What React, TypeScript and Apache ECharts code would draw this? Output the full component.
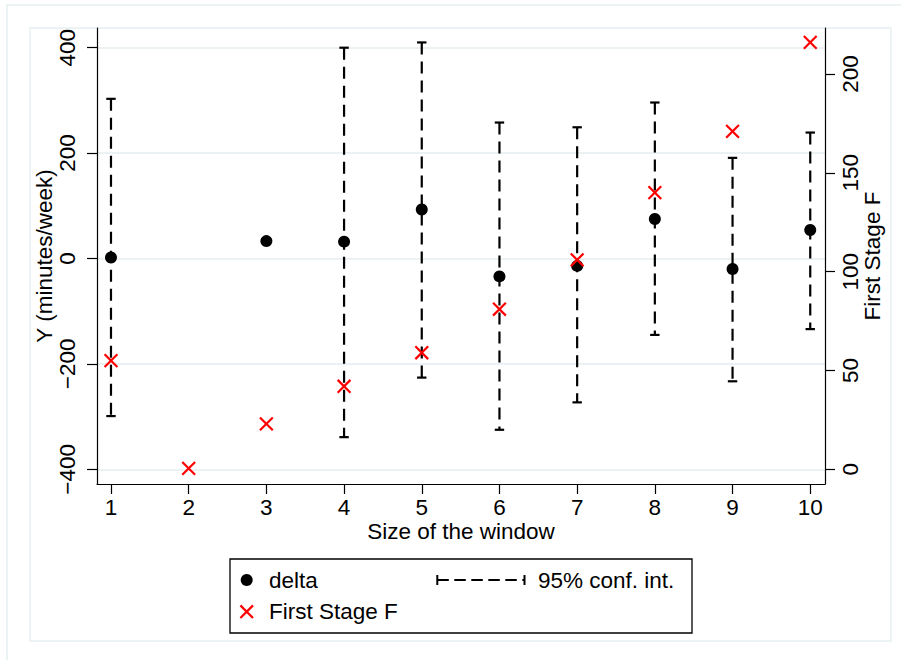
import React, { useEffect, useRef } from "react";
import * as echarts from "echarts";

// ---- data ----
const windowSizes = [1, 2, 3, 4, 5, 6, 7, 8, 9, 10];
const delta: (number | null)[] = [2, null, 33, 32, 93, -34, -14, 75, -20, 54];
const ciLow: (number | null)[] = [-299, null, null, -339, -226, -325, -273, -145, -233, -134];
const ciHigh: (number | null)[] = [303, null, null, 400, 410, 258, 249, 296, 191, 239];
const firstStageF = [55, 0.5, 23, 42, 59, 81, 106, 140, 171, 216];

const xTicks = [1, 2, 3, 4, 5, 6, 7, 8, 9, 10];
const yLeftTicks = [-400, -200, 0, 200, 400];
const yRightTicks = [0, 50, 100, 150, 200];

const FONT = "'Liberation Sans', Arial, Helvetica, sans-serif";
const FS = 22.5;
const GRID_COLOR = "#e6edf1";
const FRAME_COLOR = "#e6eff1";

const fmt = (v: number) => String(v).replace("-", "\u2212");

export default function App() {
  const ref = useRef<HTMLDivElement>(null);

  useEffect(() => {
    if (!ref.current) return;
    const chart = echarts.init(ref.current, undefined, { renderer: "svg" });

    const deltaData = windowSizes
      .map((x, i) => [x, delta[i]])
      .filter((d) => d[1] != null);
    const ciData = windowSizes
      .map((x, i) => [x, ciLow[i], ciHigh[i]])
      .filter((d) => d[1] != null && d[2] != null);
    const fData = windowSizes.map((x, i) => [x, firstStageF[i]]);

    const axisText = { color: "#000", fontFamily: FONT, fontSize: FS };

    const option: any = {
      animation: false,
      backgroundColor: "#fff",
      grid: { left: 97, right: 76, top: 28, bottom: 176, containLabel: false },
      xAxis: {
        type: "value",
        min: 0.82,
        max: 10.19,
        name: "Size of the window",
        nameLocation: "middle",
        nameGap: 36,
        nameMoveOverlap: false,
        nameTextStyle: axisText,
        axisLine: { show: true, onZero: false, lineStyle: { color: "#000", width: 1.2 } },
        axisTick: { show: true, length: 10, customValues: xTicks, lineStyle: { color: "#000", width: 1.2 } },
        axisLabel: { customValues: xTicks, margin: 12, ...axisText },
        splitLine: { show: false },
      },
      yAxis: [
        {
          type: "value",
          position: "left",
          min: -427.9,
          max: 437.4,
          name: "Y (minutes/week)",
          nameLocation: "middle",
          nameRotate: 90,
          nameGap: 41,
          nameMoveOverlap: false,
          nameTextStyle: axisText,
          axisLine: { show: true, onZero: false, lineStyle: { color: "#000", width: 1.2 } },
          axisTick: { show: true, length: 10, customValues: yLeftTicks, lineStyle: { color: "#000", width: 1.2 } },
          axisLabel: { customValues: yLeftTicks, rotate: 90, margin: 18, formatter: fmt, ...axisText },
          splitLine: { show: true, lineStyle: { color: GRID_COLOR, width: 1.5 } },
        },
        {
          type: "value",
          position: "right",
          min: -7.44,
          max: 223.3,
          name: "First Stage F",
          nameLocation: "middle",
          nameRotate: 90,
          nameGap: 36,
          nameMoveOverlap: false,
          nameTextStyle: axisText,
          axisLine: { show: true, onZero: false, lineStyle: { color: "#000", width: 1.2 } },
          axisTick: { show: true, length: 10, customValues: yRightTicks, lineStyle: { color: "#000", width: 1.2 } },
          axisLabel: { customValues: yRightTicks, rotate: 90, margin: 14, formatter: fmt, ...axisText },
          splitLine: { show: false },
        },
      ],
      series: [
        {
          name: "95% conf. int.",
          type: "custom",
          xAxisIndex: 0,
          yAxisIndex: 0,
          encode: { x: 0, y: [1, 2] },
          data: ciData,
          z: 2,
          renderItem: (params: any, api: any) => {
            const x = api.value(0);
            const lo = api.value(1);
            const hi = api.value(2);
            const pHi = api.coord([x, hi]);
            const pLo = api.coord([x, lo]);
            const c = 4.7;
            const st = { stroke: "#000", lineWidth: 2.2 };
            return {
              type: "group",
              children: [
                {
                  type: "line",
                  shape: { x1: pHi[0], y1: pHi[1], x2: pLo[0], y2: pLo[1] },
                  style: { ...st, lineDash: [12, 7] },
                },
                { type: "line", shape: { x1: pHi[0] - c, y1: pHi[1], x2: pHi[0] + c, y2: pHi[1] }, style: st },
                { type: "line", shape: { x1: pLo[0] - c, y1: pLo[1], x2: pLo[0] + c, y2: pLo[1] }, style: st },
              ],
            };
          },
        },
        {
          name: "delta",
          type: "scatter",
          xAxisIndex: 0,
          yAxisIndex: 0,
          symbol: "circle",
          symbolSize: 12,
          itemStyle: { color: "#000", opacity: 1 },
          data: deltaData,
          z: 3,
        },
        {
          name: "First Stage F",
          type: "custom",
          xAxisIndex: 0,
          yAxisIndex: 1,
          encode: { x: 0, y: 1 },
          data: fData,
          z: 4,
          renderItem: (params: any, api: any) => {
            const p = api.coord([api.value(0), api.value(1)]);
            const h = 6.4;
            const st = { stroke: "#ff0000", lineWidth: 2.2 };
            return {
              type: "group",
              children: [
                { type: "line", shape: { x1: p[0] - h, y1: p[1] - h, x2: p[0] + h, y2: p[1] + h }, style: st },
                { type: "line", shape: { x1: p[0] - h, y1: p[1] + h, x2: p[0] + h, y2: p[1] - h }, style: st },
              ],
            };
          },
        },
      ],
      graphic: [
        // outer and inner frames
        { type: "rect", z: -10, silent: true, shape: { x: 7, y: 5, width: 905, height: 700 }, style: { fill: "none", stroke: FRAME_COLOR, lineWidth: 1.5 } },
        { type: "rect", z: -10, silent: true, shape: { x: 30, y: 28, width: 861, height: 613 }, style: { fill: "none", stroke: FRAME_COLOR, lineWidth: 1.5 } },
        // legend box
        { type: "rect", z: 10, shape: { x: 230, y: 559, width: 462, height: 74 }, style: { fill: "#fff", stroke: "#000", lineWidth: 1.3 } },
        { type: "circle", z: 11, shape: { cx: 246.7, cy: 580, r: 6 }, style: { fill: "#000" } },
        { type: "text", z: 11, x: 269, y: 580, style: { text: "delta", fill: "#000", font: `${FS}px ${FONT}`, verticalAlign: "middle", align: "left" } },
        { type: "line", z: 11, shape: { x1: 240.4, y1: 605.4, x2: 253, y2: 618 }, style: { stroke: "#ff0000", lineWidth: 2.2 } },
        { type: "line", z: 11, shape: { x1: 240.4, y1: 618, x2: 253, y2: 605.4 }, style: { stroke: "#ff0000", lineWidth: 2.2 } },
        { type: "text", z: 11, x: 269, y: 611.5, style: { text: "First Stage F", fill: "#000", font: `${FS}px ${FONT}`, verticalAlign: "middle", align: "left" } },
        { type: "line", z: 11, shape: { x1: 437.3, y1: 580, x2: 524.5, y2: 580 }, style: { stroke: "#000", lineWidth: 2, lineDash: [11.5, 5.5] } },
        { type: "line", z: 11, shape: { x1: 437.3, y1: 575, x2: 437.3, y2: 585 }, style: { stroke: "#000", lineWidth: 2 } },
        { type: "line", z: 11, shape: { x1: 524.5, y1: 575, x2: 524.5, y2: 585 }, style: { stroke: "#000", lineWidth: 2 } },
        { type: "text", z: 11, x: 538, y: 580, style: { text: "95% conf. int.", fill: "#000", font: `${FS}px ${FONT}`, verticalAlign: "middle", align: "left" } },
      ],
    };

    chart.setOption(option);
    return () => chart.dispose();
  }, []);

  return (
    <div
      ref={ref}
      style={{ position: "fixed", left: 0, top: 0, width: 901, height: 660, background: "#fff" }}
    />
  );
}
